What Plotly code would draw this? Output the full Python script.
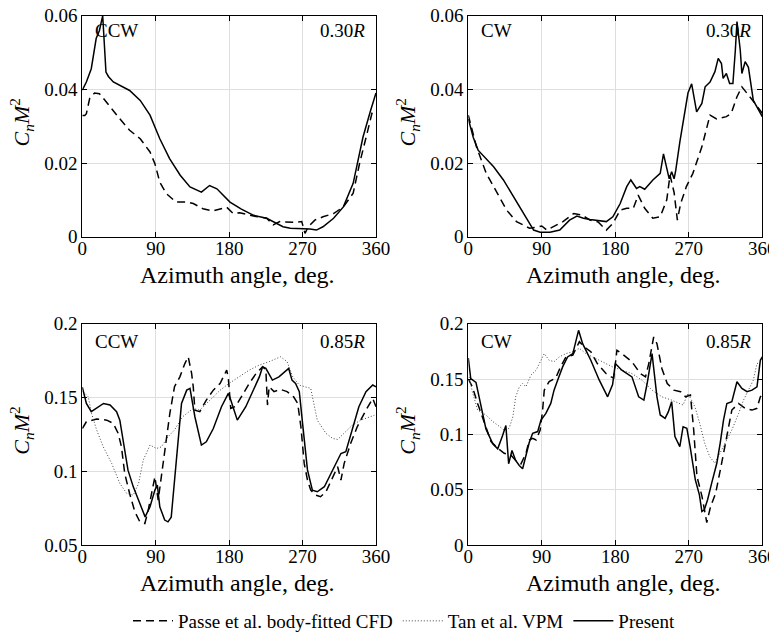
import plotly.graph_objects as go

# ---------------- data ----------------
ticks_x = [0, 90, 180, 270, 360]
ticks_x_text = ["0", "90", "180", "270", "360"]
ticks_y_top = [0, 0.02, 0.04, 0.06]
ticks_y_top_text = ["0", "0.02", "0.04", "0.06"]
ticks_y_bl = [0.05, 0.1, 0.15, 0.2]
ticks_y_bl_text = ["0.05", "0.1", "0.15", "0.2"]
ticks_y_br = [0, 0.05, 0.1, 0.15, 0.2]
ticks_y_br_text = ["0", "0.05", "0.1", "0.15", "0.2"]

# Panel (a): CCW, 0.30R
ccw30_present_x = [0, 5, 11, 17, 21, 25, 29, 32, 38, 46, 58, 71, 83, 95, 107, 120, 132, 146, 156, 165,
                   181, 195, 210, 226, 246, 255, 279, 287, 295, 308, 320, 332, 344, 353, 360]
ccw30_present_y = [0.0398, 0.042, 0.0456, 0.0538, 0.056, 0.060, 0.0447, 0.0435, 0.042, 0.041, 0.0397, 0.037,
                   0.033, 0.0266, 0.0212, 0.0167, 0.0135, 0.0121, 0.0139, 0.013, 0.0094, 0.0075, 0.0058,
                   0.005, 0.0027, 0.0023, 0.0021, 0.0018, 0.0027, 0.005, 0.0081, 0.0145, 0.027, 0.034, 0.039]
ccw30_passe_x = [0, 3, 5, 9, 15, 21, 26, 34, 46, 58, 71, 83, 89, 95, 103, 115, 128, 136, 148, 160, 177,
                 185, 193, 210, 226, 234, 242, 259, 269, 273, 277, 285, 295, 308, 320, 332, 340, 349, 355, 360]
ccw30_passe_y = [0.0329, 0.0329, 0.0334, 0.0375, 0.039, 0.0388, 0.0375, 0.0352, 0.032, 0.0289, 0.0266, 0.023,
                 0.0198, 0.0148, 0.0117, 0.0094, 0.0094, 0.009, 0.0076, 0.007, 0.008, 0.0063, 0.0065,
                 0.0056, 0.005, 0.0032, 0.0041, 0.0039, 0.0041, 0.0009, 0.0027, 0.0045, 0.0054, 0.0063,
                 0.0081, 0.0118, 0.020, 0.028, 0.0335, 0.033]

# Panel (b): CW, 0.30R
cw30_present_x = [0, 6, 12, 20, 31, 43, 55, 67, 80, 88, 100, 112, 124, 133, 141, 149, 157, 169, 177, 186,
                  194, 199, 206, 210, 216, 226, 235, 239, 246, 249, 252, 254, 259, 269, 273.5, 279.6, 286,
                  290, 296, 302, 306, 310, 312, 316, 320, 324, 327, 329, 333, 335, 339, 343, 349, 357, 360]
cw30_present_y = [0.032, 0.027, 0.0235, 0.0217, 0.019, 0.0154, 0.0109, 0.0063, 0.0018, 0.0012, 0.0012,
                  0.0018, 0.0045, 0.0056, 0.005, 0.0047, 0.0045, 0.0041, 0.0054, 0.009, 0.0136, 0.0154,
                  0.0131, 0.0136, 0.0129, 0.0154, 0.0172, 0.0225, 0.0157, 0.0176, 0.0157, 0.018, 0.0257,
                  0.039, 0.0415, 0.0339, 0.0362, 0.0407, 0.042, 0.0448, 0.0484, 0.047, 0.043, 0.0443,
                  0.0416, 0.0416, 0.0507, 0.0584, 0.0507, 0.0443, 0.0475, 0.046, 0.037, 0.034, 0.0326]
cw30_passe_x = [0, 10, 22, 35, 47, 59, 75, 86, 90, 96, 104, 116, 129, 139, 149, 159, 169, 177, 186, 194,
                202, 208, 216, 226, 235, 243, 247, 252, 256, 260, 267, 275, 286, 292, 296, 304, 316, 322,
                329, 335, 343, 351, 360]
cw30_passe_y = [0.033, 0.0244, 0.0172, 0.0118, 0.0072, 0.0041, 0.0023, 0.0027, 0.0029, 0.0018, 0.0027,
                0.0041, 0.0063, 0.0059, 0.0045, 0.004, 0.0018, 0.0036, 0.0072, 0.0077, 0.0077, 0.0113,
                0.0077, 0.005, 0.0054, 0.010, 0.0167, 0.012, 0.0045, 0.009, 0.0136, 0.0172, 0.0244, 0.030,
                0.033, 0.032, 0.0326, 0.0335, 0.038, 0.0407, 0.0385, 0.0362, 0.0335]

# Panel (c): CCW, 0.85R
ccw85_present_x = [0, 5, 11, 20, 26, 34, 42, 46, 50, 56, 62.5, 71, 77, 83, 89, 92, 95, 101, 105, 109,
                   115.5, 121.6, 128, 132, 138, 146, 152, 160.6, 170.6, 179, 182, 190, 200.4, 208.6, 217,
                   221, 225, 233, 241, 253, 257, 261.4, 266, 270, 276, 282, 288, 296.7, 305, 311, 317, 323,
                   331, 339, 347.7, 356, 360]
ccw85_present_y = [0.157, 0.146, 0.1404, 0.1438, 0.146, 0.145, 0.1404, 0.1347, 0.121, 0.1008, 0.0895,
                   0.0771, 0.0692, 0.076, 0.0873, 0.0907, 0.076, 0.067, 0.0658, 0.069, 0.1076, 0.146,
                   0.155, 0.1562, 0.137, 0.1178, 0.12, 0.129, 0.1438, 0.1528, 0.1483, 0.1347, 0.1438,
                   0.154, 0.164, 0.1708, 0.1697, 0.1618, 0.164, 0.1697, 0.1618, 0.1596, 0.154, 0.1325,
                   0.101, 0.0873, 0.0862, 0.0896, 0.0986, 0.1054, 0.1121, 0.1133, 0.128, 0.1438, 0.154,
                   0.1585, 0.1573]
ccw85_passe_x = [0, 5, 17.6, 30, 38, 44, 48, 52, 58, 64.5, 70.6, 76.7, 80.8, 84.9, 89, 93, 97, 101,
                 107.3, 113, 119.6, 125.7, 129.8, 134, 136, 138, 144, 152, 160.6, 169, 177, 179, 182, 188,
                 196, 204.7, 213, 221, 225, 227, 229, 235, 243, 251, 259, 264, 268, 272, 276, 280, 286,
                 292, 298.7, 306.9, 313, 317, 321, 329, 337, 347.7, 356, 360]
ccw85_passe_y = [0.129, 0.1336, 0.1354, 0.1347, 0.1325, 0.1257, 0.1166, 0.0986, 0.085, 0.0726, 0.0658,
                 0.0647, 0.0737, 0.0862, 0.0963, 0.0805, 0.0963, 0.1121, 0.1392, 0.1573, 0.164, 0.173,
                 0.1776, 0.1663, 0.1573, 0.1415, 0.1404, 0.1483, 0.155, 0.1596, 0.1686, 0.163, 0.1426,
                 0.144, 0.1517, 0.1596, 0.1663, 0.1708, 0.1686, 0.1449, 0.1573, 0.154, 0.1555, 0.154,
                 0.1505, 0.146, 0.130, 0.1054, 0.0941, 0.0873, 0.0839, 0.0828, 0.0862, 0.0963, 0.1031,
                 0.0941, 0.1054, 0.119, 0.1302, 0.1415, 0.1494, 0.1438]
ccw85_tan_x = [1, 7.3, 11.4, 17.6, 25.7, 36, 46, 54.6, 62.5, 69, 74.7, 83, 91, 97, 105, 113, 123, 136,
               144, 156, 169, 180, 192, 204.7, 217, 229, 243, 251, 258, 266, 280, 284, 288, 298.7, 306.9,
               313, 321, 331, 341.5, 351.9, 358]
ccw85_tan_y = [0.154, 0.1505, 0.1392, 0.128, 0.1166, 0.1054, 0.0918, 0.085, 0.0839, 0.0918, 0.1076,
               0.1178, 0.1155, 0.1166, 0.1234, 0.128, 0.137, 0.1426, 0.1415, 0.1483, 0.155, 0.1596, 0.164,
               0.1686, 0.172, 0.1743, 0.1776, 0.1743, 0.164, 0.1584, 0.1562, 0.146, 0.1347, 0.1257,
               0.1223, 0.1216, 0.1257, 0.1313, 0.1347, 0.137, 0.138]

# Panel (d): CW, 0.85R
cw85_present_x = [0, 3, 9.4, 15.5, 21.6, 30, 36, 42, 46, 49.4, 53.5, 58, 62.4, 66.5, 70.6, 74.7, 78.8,
                  85, 89, 95, 101, 105, 109.4, 115.5, 121.6, 128, 135, 140, 150, 160.4, 170.6, 176.7, 180,
                  188, 200.4, 208.6, 215, 219, 225, 231, 235, 241, 245, 249, 253, 259, 263, 267.6, 271.6,
                  278, 283, 286, 289, 293, 298, 304.3, 308.4, 312.5, 316.6, 322.7, 329, 335, 341.3, 347.4,
                  353.5, 357.6, 360]
cw85_present_y = [0.169, 0.1504, 0.147, 0.126, 0.105, 0.0915, 0.087, 0.099, 0.108, 0.0735, 0.0855,
                  0.0765, 0.072, 0.069, 0.081, 0.093, 0.101, 0.1026, 0.113, 0.119, 0.128, 0.140, 0.149,
                  0.161, 0.170, 0.173, 0.194, 0.182, 0.167, 0.149, 0.134, 0.145, 0.164, 0.158, 0.152,
                  0.134, 0.131, 0.146, 0.173, 0.134, 0.1176, 0.1146, 0.1206, 0.1296, 0.098, 0.089, 0.107,
                  0.1056, 0.089, 0.059, 0.0455, 0.0305, 0.032, 0.041, 0.056, 0.074, 0.092, 0.113, 0.128,
                  0.1296, 0.1476, 0.1416, 0.1386, 0.140, 0.143, 0.167, 0.170]
cw85_passe_x = [0, 5, 11.4, 19.6, 27.8, 36, 44, 52, 58, 64.5, 70.6, 74.7, 78.8, 83, 88, 91, 93, 99, 107,
                113, 119.6, 128, 136, 142, 150, 158, 168.6, 175, 178, 182, 188, 200.4, 210.6, 217, 221,
                227, 231, 237, 243.6, 251.7, 260, 266, 272, 276, 280, 286, 292, 296.7, 302.9, 311, 317,
                322.7, 330.9, 339, 347.4, 353.5, 357.6, 360]
cw85_passe_y = [0.150, 0.143, 0.128, 0.110, 0.0935, 0.0875, 0.083, 0.0815, 0.0765, 0.0735, 0.083, 0.095,
                0.0965, 0.095, 0.104, 0.122, 0.140, 0.1477, 0.151, 0.161, 0.170, 0.1717, 0.1838, 0.179,
                0.1747, 0.164, 0.155, 0.152, 0.151, 0.176, 0.173, 0.1656, 0.155, 0.152, 0.164, 0.188,
                0.182, 0.1596, 0.146, 0.140, 0.1386, 0.134, 0.1356, 0.104, 0.062, 0.0445, 0.0205, 0.035,
                0.047, 0.077, 0.101, 0.122, 0.128, 0.1236, 0.122, 0.1236, 0.134, 0.1356]
cw85_tan_x = [1, 5, 11.4, 21.6, 30, 38, 44, 50, 54.6, 58, 62.5, 66.5, 70.6, 76.7, 83, 89, 93, 99, 105,
              111.4, 119.6, 128, 136, 144, 152, 160.4, 168.6, 176.7, 188, 200.4, 212.6, 225, 237, 249,
              263, 269, 277.5, 283.4, 289.5, 295.6, 301.8, 308, 314, 322.7, 331, 337, 343, 349, 353.5,
              357.6]
cw85_tan_y = [0.152, 0.1386, 0.122, 0.1176, 0.1116, 0.107, 0.104, 0.1056, 0.116, 0.134, 0.143, 0.146,
              0.143, 0.1536, 0.158, 0.167, 0.173, 0.167, 0.1657, 0.170, 0.173, 0.1747, 0.1777, 0.173,
              0.170, 0.167, 0.164, 0.161, 0.158, 0.155, 0.149, 0.140, 0.134, 0.131, 0.1266, 0.137,
              0.125, 0.110, 0.092, 0.080, 0.074, 0.083, 0.092, 0.104, 0.119, 0.131, 0.140, 0.149, 0.164,
              0.165]

series_names = ["Passe et al. body-fitted CFD", "Tan et al. VPM", "Present"]
panel_labels_left = ["CCW", "CW", "CCW", "CW"]
panel_labels_right = ["0.30<i>R</i>", "0.30<i>R</i>", "0.85<i>R</i>", "0.85<i>R</i>"]
x_title = "Azimuth angle, deg."
y_title = "<i>C</i><sub><i>n</i></sub><i>M</i><sup>2</sup>"

# ---------------- styles ----------------
FONT = "Liberation Serif, Times New Roman, DejaVu Serif, serif"
OFF = 8                      # the page body has an 8px margin
W, H = 777 - OFF, 633 - OFF  # figure size so that the figure fills the window
dash_style = dict(color="black", width=1.5, dash="8px,5px")
dot_style = dict(color="#444444", width=1, dash="1px,2px")
solid_style = dict(color="black", width=1.5)

fig = go.Figure()

panels = [
    ("x", "y", ccw30_passe_x, ccw30_passe_y, None, None, ccw30_present_x, ccw30_present_y),
    ("x2", "y2", cw30_passe_x, cw30_passe_y, None, None, cw30_present_x, cw30_present_y),
    ("x3", "y3", ccw85_passe_x, ccw85_passe_y, ccw85_tan_x, ccw85_tan_y, ccw85_present_x, ccw85_present_y),
    ("x4", "y4", cw85_passe_x, cw85_passe_y, cw85_tan_x, cw85_tan_y, cw85_present_x, cw85_present_y),
]

for i, (xa, ya, px, py, tx, ty, sx, sy) in enumerate(panels):
    fig.add_trace(go.Scatter(x=px, y=py, mode="lines", line=dash_style, xaxis=xa, yaxis=ya,
                             name=series_names[0], showlegend=(i == 2), legendrank=1))
    if tx is not None:
        fig.add_trace(go.Scatter(x=tx, y=ty, mode="lines", line=dot_style, xaxis=xa, yaxis=ya,
                                 name=series_names[1], showlegend=(i == 2), legendrank=2))
    fig.add_trace(go.Scatter(x=sx, y=sy, mode="lines", line=solid_style, xaxis=xa, yaxis=ya,
                             name=series_names[2], showlegend=(i == 2), legendrank=3))

# axes boxes, in window pixels
col_px = [(82.3, 376.0), (468.3, 762.3)]
row_px = [(15.7, 236.7), (323.7, 545.2)]


def fx(p):
    return (p - OFF) / W


def fy(p):
    return 1 - (p - OFF) / H


axis_common = dict(
    showline=True, linecolor="black", linewidth=1, mirror="ticks",
    ticks="inside", ticklen=5, tickwidth=1, tickcolor="black",
    showgrid=True, gridcolor="#dedede", gridwidth=1, zeroline=False,
    automargin=False, ticklabeloverflow="allow",
    tickfont=dict(family=FONT, size=19, color="black"),
)

yinfo = [
    ([0, 0.06], ticks_y_top, ticks_y_top_text),
    ([0, 0.06], ticks_y_top, ticks_y_top_text),
    ([0.05, 0.2], ticks_y_bl, ticks_y_bl_text),
    ([0, 0.2], ticks_y_br, ticks_y_br_text),
]

layout = dict(
    template="none",
    width=W, height=H,
    margin=dict(l=0, r=0, t=0, b=0, autoexpand=False),
    paper_bgcolor="white", plot_bgcolor="white",
    font=dict(family=FONT, color="black"),
    showlegend=True,
    legend=dict(orientation="h", x=fx(128), xanchor="left", y=fy(621), yanchor="middle",
                font=dict(family=FONT, size=19, color="black"), bgcolor="rgba(0,0,0,0)",
                itemwidth=40, tracegroupgap=0),
)

annotations = []
for k in range(4):
    r, c = divmod(k, 2)
    sfx = "" if k == 0 else str(k + 1)
    x0, x1 = col_px[c]
    y0, y1 = row_px[r]
    layout["xaxis" + sfx] = dict(axis_common, domain=[fx(x0), fx(x1)], range=[0, 360],
                                 tickvals=ticks_x, ticktext=ticks_x_text, anchor="y" + sfx,
                                 ticklabelstandoff=-6)
    rng, tv, tt = yinfo[k]
    layout["yaxis" + sfx] = dict(axis_common, domain=[fy(y1), fy(y0)], range=rng, tickvals=tv,
                                 ticktext=tt, anchor="x" + sfx, ticklabelstandoff=0)
    # x-axis title
    annotations.append(dict(text=x_title, x=fx((x0 + x1) / 2 + 8), y=fy(y1 + 38),
                            xref="paper", yref="paper", showarrow=False, xanchor="center",
                            yanchor="middle", font=dict(family=FONT, size=24, color="black")))
    # y-axis title
    annotations.append(dict(text=y_title, x=fx(x0 - 61), y=fy((y0 + y1) / 2 - 4),
                            xref="paper", yref="paper", showarrow=False, xanchor="center",
                            yanchor="middle", textangle=-90,
                            font=dict(family=FONT, size=22, color="black")))
    # panel labels
    ly = y0 + (15 if r == 0 else 18)
    annotations.append(dict(text=panel_labels_left[k], x=fx(x0 + 11), y=fy(ly),
                            xref="paper", yref="paper", showarrow=False, xanchor="left",
                            yanchor="middle", font=dict(family=FONT, size=19, color="black")))
    annotations.append(dict(text=panel_labels_right[k], x=fx(x1 - 9), y=fy(ly),
                            xref="paper", yref="paper", showarrow=False, xanchor="right",
                            yanchor="middle", font=dict(family=FONT, size=19, color="black")))

layout["annotations"] = annotations
fig.update_layout(**layout)

fig.write_html("out.html")
